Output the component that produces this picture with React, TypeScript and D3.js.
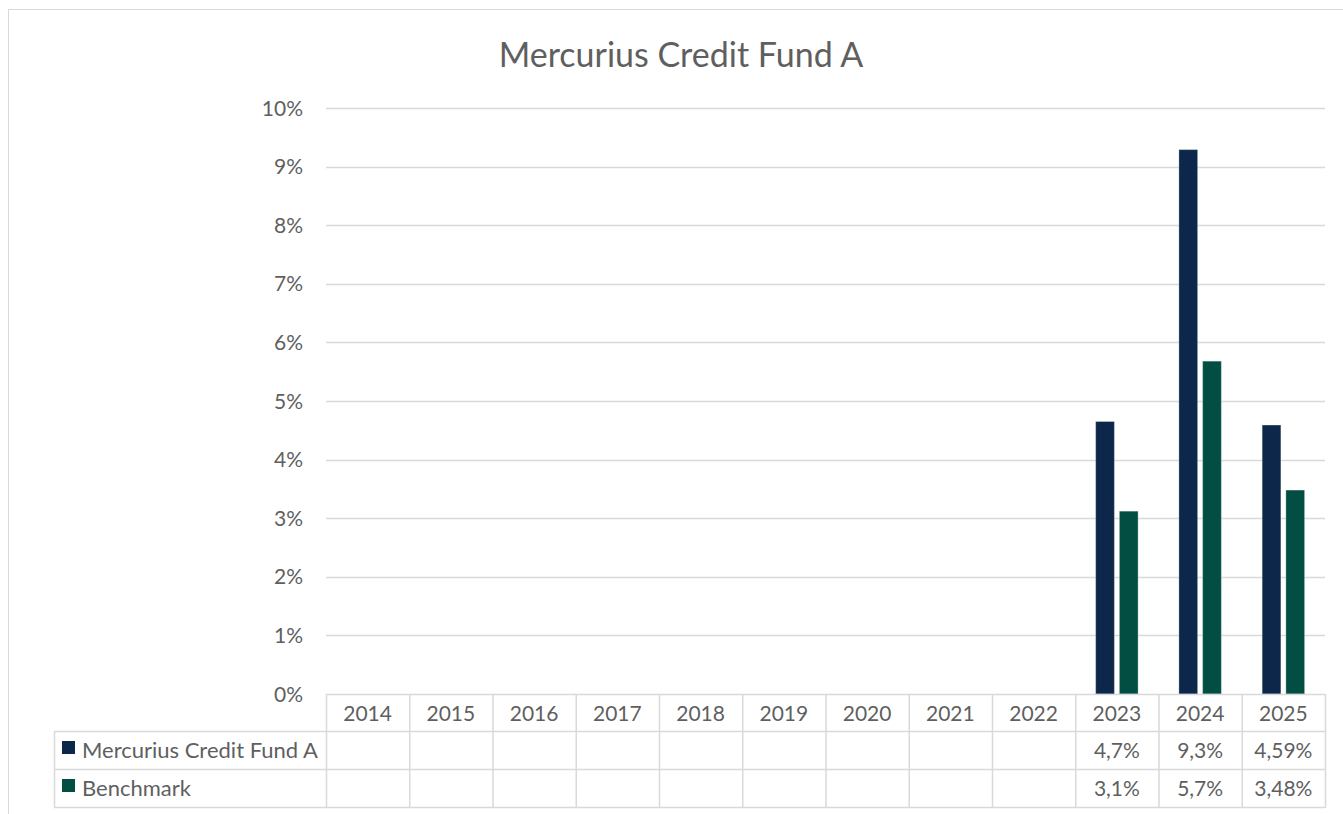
import React from "react";
import * as d3 from "d3";

const title = "Mercurius Credit Fund A";
const years = ["2014", "2015", "2016", "2017", "2018", "2019", "2020", "2021", "2022", "2023", "2024", "2025"];
const seriesNames = ["Mercurius Credit Fund A", "Benchmark"];
const seriesColors = ["#0c2749", "#034e43"];
// values in percent (null = no data)
const fundValues: (number | null)[] = [null, null, null, null, null, null, null, null, null, 4.65, 9.29, 4.59];
const benchValues: (number | null)[] = [null, null, null, null, null, null, null, null, null, 3.12, 5.68, 3.48];
const fundLabels = ["", "", "", "", "", "", "", "", "", "4,7%", "9,3%", "4,59%"];
const benchLabels = ["", "", "", "", "", "", "", "", "", "3,1%", "5,7%", "3,48%"];
const yTicks = [0, 1, 2, 3, 4, 5, 6, 7, 8, 9, 10];

const W = 1343;
const H = 814;
const FONT = "Lato, 'Open Sans', sans-serif";
const TEXT = "#5f5f5f";
const GRID = "#d9d9d9";

export default function App() {
  const plotLeft = 326;
  const plotRight = 1325;
  const x = d3.scaleBand<string>().domain(years).range([plotLeft, plotRight]).paddingInner(0).paddingOuter(0);
  const y = d3.scaleLinear().domain([0, 10]).range([694, 108]);
  const bw = x.bandwidth();
  const sub = d3.scaleBand<string>().domain(seriesNames).range([0, bw]).paddingInner(0.2105).paddingOuter(0.86);

  const rowTop = [694, 731, 769, 807];
  const legendLeft = 54;
  const seriesData = [fundValues, benchValues];
  const labelRows = [fundLabels, benchLabels];

  return (
    <svg
      width={W}
      height={H}
      style={{ position: "absolute", left: 0, top: 0, display: "block" }}
      fontFamily={FONT}
    >
      <rect x={0} y={0} width={W} height={H} fill="#ffffff" />
      <rect x={8.5} y={9.5} width={1400} height={900} fill="#ffffff" stroke={GRID} strokeWidth={1} />

      <text x={681} y={67} textAnchor="middle" fontSize={34} fill={TEXT}>
        {title}
      </text>

      {/* gridlines */}
      {yTicks.map((t) =>
        t === 0 ? null : (
          <line key={"g" + t} x1={plotLeft} x2={plotRight} y1={Math.round(y(t)) + 0.5} y2={Math.round(y(t)) + 0.5} stroke={GRID} strokeWidth={1.3} />
        )
      )}
      {/* y tick labels */}
      {yTicks.map((t) => (
        <text key={"t" + t} x={303} y={y(t) + 7.5} textAnchor="end" fontSize={21} fill={TEXT}>
          {t + "%"}
        </text>
      ))}

      {/* bars */}
      {seriesData.map((vals, si) =>
        vals.map((v, i) =>
          v == null ? null : (
            <rect
              key={"b" + si + "-" + i}
              x={(x(years[i]) as number) + (sub(seriesNames[si]) as number)}
              y={y(v)}
              width={sub.bandwidth()}
              height={y(0) - y(v)}
              fill={seriesColors[si]}
              stroke="#ffffff"
              strokeOpacity={0.3}
              strokeWidth={1}
            />
          )
        )
      )}

      {/* data table horizontal lines */}
      <line x1={plotLeft} x2={plotRight} y1={rowTop[0] + 0.5} y2={rowTop[0] + 0.5} stroke={GRID} strokeWidth={1.5} />
      {rowTop.slice(1).map((ry, k) => (
        <line key={"h" + k} x1={legendLeft} x2={plotRight} y1={ry + 0.5} y2={ry + 0.5} stroke={GRID} strokeWidth={1.5} />
      ))}
      {/* vertical lines */}
      {years.map((yr) => (
        <line key={"v" + yr} x1={(x(yr) as number) + 0.5} x2={(x(yr) as number) + 0.5} y1={rowTop[0]} y2={rowTop[3] + 1} stroke={GRID} strokeWidth={1.5} />
      ))}
      <line x1={plotRight + 0.5} x2={plotRight + 0.5} y1={rowTop[0]} y2={rowTop[3] + 1} stroke={GRID} strokeWidth={1.5} />
      <line x1={legendLeft + 0.5} x2={legendLeft + 0.5} y1={rowTop[1]} y2={rowTop[3] + 1} stroke={GRID} strokeWidth={1.5} />

      {/* header years */}
      {years.map((yr) => (
        <text key={"yl" + yr} x={(x(yr) as number) + bw / 2} y={721} textAnchor="middle" fontSize={21} fill={TEXT}>
          {yr}
        </text>
      ))}

      {/* legend rows */}
      {seriesNames.map((name, si) => (
        <g key={"lg" + si}>
          <rect x={62} y={rowTop[si + 1] + 10} width={13} height={13} fill={seriesColors[si]} />
          <text x={82} y={rowTop[si + 1] + 27} fontSize={22} fill={TEXT}>
            {name}
          </text>
          {labelRows[si].map((lab, i) =>
            lab ? (
              <text key={"dl" + si + "-" + i} x={(x(years[i]) as number) + bw / 2} y={rowTop[si + 1] + 27} textAnchor="middle" fontSize={21} fill={TEXT}>
                {lab}
              </text>
            ) : null
          )}
        </g>
      ))}
    </svg>
  );
}
